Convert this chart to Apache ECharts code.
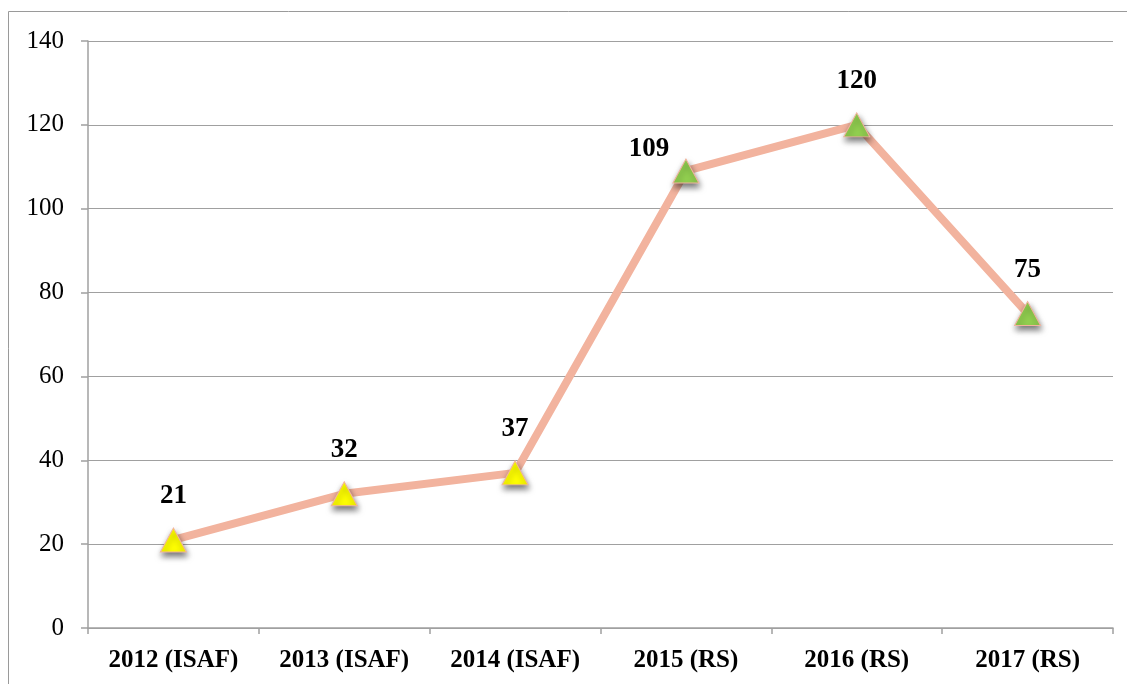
<!DOCTYPE html>
<html><head><meta charset="utf-8">
<script src="https://cdn.jsdelivr.net/npm/echarts@6/dist/echarts.min.js"></script>
<style>html,body{margin:0;padding:0;background:#fff}#c{width:1127px;height:684px}</style>
</head><body><div id="c"></div>
<script>
const categories = ['2012 (ISAF)', '2013 (ISAF)', '2014 (ISAF)', '2015 (RS)', '2016 (RS)', '2017 (RS)'];
const values = [21, 32, 37, 109, 120, 75];
const markerColors = ['#FFFF00', '#FFFF00', '#FFFF00', '#92D050', '#92D050', '#92D050'];
const yTicks = [0, 20, 40, 60, 80, 100, 120, 140];

const font = '"Liberation Serif", "Times New Roman", serif';
const chart = echarts.init(document.getElementById('c'));
const data = values.map((v, i) => {
  const d = {
    value: v,
    itemStyle: { color: markerColors[i] }
  };
  if (i === 3) d.label = { offset: [-37, 22] };
  return d;
});
chart.setOption({
  animation: false,
  graphic: [{
    type: 'rect', silent: true,
    shape: { x: 8.5, y: 11.5, width: 1140, height: 700 },
    style: { fill: 'none', stroke: '#9a9a9a', lineWidth: 1 }
  }],
  grid: { left: 88, top: 41, right: 14, bottom: 56, containLabel: false },
  xAxis: {
    type: 'category', data: categories, boundaryGap: true,
    axisLine: { lineStyle: { color: '#a0a0a0', width: 1.5 } },
    axisTick: { show: true, interval: 0, length: 6, lineStyle: { color: '#a0a0a0', width: 1.5 } },
    axisLabel: { interval: 0, fontFamily: font, fontSize: 25, fontWeight: 'bold', color: '#000', margin: 20 }
  },
  yAxis: {
    type: 'value', min: 0, max: 140, interval: 20,
    axisLine: { show: true, lineStyle: { color: '#a0a0a0', width: 1.5 } },
    axisTick: { show: true, length: 7, lineStyle: { color: '#a0a0a0', width: 1.5 } },
    splitLine: { lineStyle: { color: '#a0a0a0', width: 1.2 } },
    axisLabel: { fontFamily: font, fontSize: 25, color: '#000', margin: 24 }
  },
  series: [{
    type: 'line', data: data,
    symbol: 'triangle', symbolSize: [26, 24],
    lineStyle: { color: '#F2B39E', width: 8 },
    itemStyle: { borderColor: '#F2B39E', borderWidth: 1, shadowColor: 'rgba(0,0,0,0.55)', shadowBlur: 6, shadowOffsetY: 4, shadowOffsetX: 1 },
    label: { show: true, position: 'top', distance: 18, fontFamily: font, fontSize: 27, fontWeight: 'bold', color: '#000' },
    emphasis: { disabled: true }
  }]
});
</script></body></html>
